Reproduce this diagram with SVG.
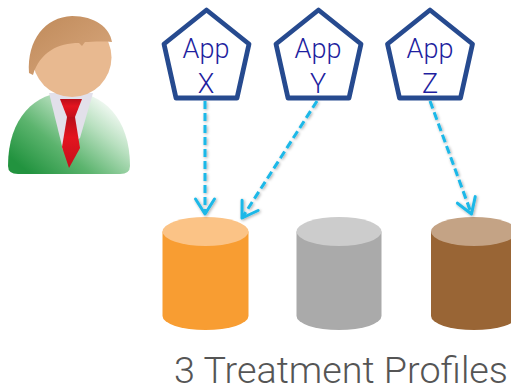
<svg xmlns="http://www.w3.org/2000/svg" width="511" height="391" viewBox="0 0 511 391">
  <defs>
    <style>
      .app { fill: #ffffff; stroke: #264a8f; stroke-width: 4.8; stroke-linejoin: round; }
      .app-label { font-family: Roboto, "Liberation Sans", sans-serif; font-weight: 300; font-size: 27px; fill: #1f1fa0; text-anchor: middle; }
      .flow { fill: none; stroke: #1bb8e8; stroke-width: 3; stroke-dasharray: 8 4; marker-end: url(#head); }
      .caption { font-family: Roboto, "Liberation Sans", sans-serif; font-weight: 300; font-size: 36px; fill: #555555; }
    </style>
    <marker id="head" viewBox="-18 -12 21 24" markerWidth="21" markerHeight="24" refX="0" refY="0" orient="auto" markerUnits="userSpaceOnUse">
      <path d="M-15,-9.5 L0,0 L-15,9.5" fill="none" stroke="#1bb8e8" stroke-width="3" stroke-linecap="round" stroke-linejoin="round"/>
    </marker>
    <filter id="halo" x="-20%" y="-10%" width="140%" height="120%">
      <feDropShadow dx="1" dy="1" stdDeviation="1.6" flood-color="#000000" flood-opacity="0.35"/>
    </filter>
    <linearGradient id="suit" x1="0.1" y1="0.9" x2="0.95" y2="0.2">
      <stop offset="0" stop-color="#22933f"/>
      <stop offset="0.35" stop-color="#5cb46e"/>
      <stop offset="0.7" stop-color="#b9e0c0"/>
      <stop offset="1" stop-color="#ffffff"/>
    </linearGradient>
    <linearGradient id="hair" x1="0" y1="0" x2="1" y2="1">
      <stop offset="0" stop-color="#bf8a5a"/>
      <stop offset="1" stop-color="#d9a87e"/>
    </linearGradient>
    <linearGradient id="tie" x1="0" y1="0" x2="0" y2="1">
      <stop offset="0" stop-color="#b80f1a"/>
      <stop offset="0.4" stop-color="#e3141f"/>
      <stop offset="1" stop-color="#c40f1a"/>
    </linearGradient>
  </defs>

  <!-- user -->
  <g id="user">
    <path d="M8,166 C8,118 35,92 69,92 C103,92 130,118 130,166 Q130,174 120,174 L18,174 Q8,174 8,166 Z" fill="url(#suit)"/>
    <polygon points="49,93 93,93 80,138 63,150" fill="#e2e0ea"/>
    <polygon points="60,99 82,99 75,117 67,117" fill="url(#tie)"/>
    <polygon points="67,117 75,117 80,148 69,168 62,147" fill="url(#tie)"/>
    <circle cx="72" cy="57.5" r="39.5" fill="#e8b990"/>
    <path d="M29,73 C27,40 45,17 72,16 C95,16 110,28 112,42 C100,41 91,42 85,42 L82,46 L79,43 C58,43 40,52 33,75 Z" fill="url(#hair)"/>
  </g>

  <!-- applications -->
  <g id="app-x">
    <polygon class="app" points="206.5,10 249,44 237,98 176,98 164,44"/>
    <text class="app-label" x="206" y="58">App</text>
    <text class="app-label" x="206" y="92.5">X</text>
  </g>
  <g id="app-y">
    <polygon class="app" points="318.5,10 361,44 349,98 288,98 276,44"/>
    <text class="app-label" x="318" y="58">App</text>
    <text class="app-label" x="318" y="92.5">Y</text>
  </g>
  <g id="app-z">
    <polygon class="app" points="430,10 472.5,44 460.5,98 399.5,98 387.5,44"/>
    <text class="app-label" x="430" y="58">App</text>
    <text class="app-label" x="430" y="92.5">Z</text>
  </g>

  <!-- treatment profiles -->
  <g id="profile-orange">
    <path d="M162.5,231.5 L162.5,316 A43,14 0 0 0 248.5,316 L248.5,231.5 Z" fill="#f89d32"/>
    <ellipse cx="205.5" cy="231.5" rx="43" ry="14.5" fill="#fbc386"/>
  </g>
  <g id="profile-gray">
    <path d="M296.5,231.5 L296.5,316 A42.5,14 0 0 0 381.5,316 L381.5,231.5 Z" fill="#aaaaaa"/>
    <ellipse cx="339" cy="231.5" rx="42.5" ry="14.5" fill="#cccccc"/>
  </g>
  <g id="profile-brown">
    <path d="M431,231.5 L431,316 A43,14 0 0 0 517,316 L517,231.5 Z" fill="#996535"/>
    <ellipse cx="474" cy="231.5" rx="43" ry="14.5" fill="#c4a385"/>
  </g>

  <!-- connectors -->
  <g id="connectors" filter="url(#halo)">
    <path class="flow" d="M205,101 L205,214"/>
    <path class="flow" d="M317,101 L242,218"/>
    <path class="flow" d="M430,101 L471.5,214"/>
  </g>

  <text class="caption" x="174" y="383" textLength="334" lengthAdjust="spacingAndGlyphs">3 Treatment Profiles</text>
</svg>
